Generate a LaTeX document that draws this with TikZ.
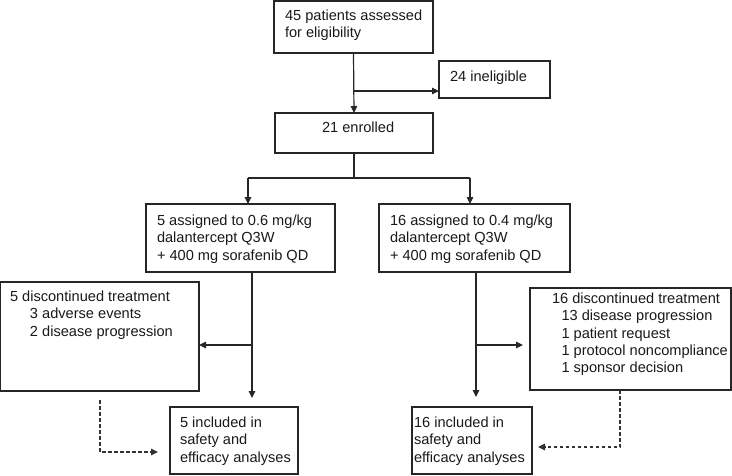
\documentclass[tikz,border=0pt]{standalone}
\usepackage{fontspec}
\setmainfont{Liberation Sans}
\usetikzlibrary{arrows.meta,calc}
\newcommand\lines[1]{\begin{tabular}[t]{@{}l@{}}#1\end{tabular}}
\begin{document}
\begin{tikzpicture}[x=1pt,y=-1pt,
  box/.style={draw=black!85, line width=1.1pt, inner sep=0pt, outer sep=0pt, anchor=north west},
  txt/.style={anchor=base west, inner sep=0pt, outer sep=0pt, text=black!90,
    font=\fontsize{14.6}{17.3}\selectfont},
  ln/.style={draw=black!85, line width=1.2pt},
  arr/.style={ln, -{Triangle[length=7pt,width=6.5pt]}},
  dsh/.style={draw=black!80, line width=1.2pt, -{Triangle[length=7pt,width=6.5pt]}, dash pattern=on 3.5pt off 2.5pt}]
\useasboundingbox (0,0) rectangle (732,475);
% boxes
\node[box, minimum width=159pt, minimum height=52pt] (b1) at (274,1) {};
\node[box, minimum width=111pt, minimum height=37pt] (inel) at (439,61) {};
\node[box, minimum width=158pt, minimum height=40pt] (enr) at (275,113) {};
\node[box, minimum width=189pt, minimum height=68pt] (b06) at (146,204) {};
\node[box, minimum width=191pt, minimum height=68pt] (b04) at (379,204) {};
\node[box, minimum width=198.4pt, minimum height=109pt] (disL) at (0.6,282) {};
\node[box, minimum width=201pt, minimum height=102pt] (disR) at (530,288) {};
\node[box, minimum width=128pt, minimum height=67pt] (inc5) at (170,407) {};
\node[box, minimum width=120pt, minimum height=67pt] (inc16) at (412,407) {};
% texts
\node[txt] (t1) at (285,20.5) {\lines{45 patients assessed\\for eligibility}};
\node[txt] (tin) at (450,81.5) {24 ineligible};
\node[txt] (ten) at (322,132.5) {21 enrolled};
\node[txt] (t06) at (157,225.5) {\lines{5 assigned to 0.6 mg/kg\\dalantercept Q3W\\+ 400 mg sorafenib QD}};
\node[txt] (t04) at (390,225.5) {\lines{16 assigned to 0.4 mg/kg\\dalantercept Q3W\\+ 400 mg sorafenib QD}};
\node[txt] (tdL) at (10,301.5) {\lines{5 discontinued treatment\\\hspace*{20pt}3 adverse events\\\hspace*{20pt}2 disease progression}};
\node[txt] (tdR) at (552,303.5) {\lines{16 discontinued treatment\\\hspace*{9.5pt}13 disease progression\\\hspace*{9.5pt}1 patient request\\\hspace*{9.5pt}1 protocol noncompliance\\\hspace*{9.5pt}1 sponsor decision}};
\node[txt] (ti5) at (180,427.5) {\lines{5 included in\\safety and\\efficacy analyses}};
\node[txt] (ti16) at (414,427.5) {\lines{16 included in\\safety and\\efficacy analyses}};
% coordinates
\coordinate (c1) at (353.5,91);
\coordinate (spL) at (248,178);
\coordinate (spR) at (470,178);
\coordinate (spM) at (354,178);
\coordinate (vL) at (252,0);
\coordinate (vR) at (476,0);
\coordinate (brL) at (252,345);
\coordinate (brR) at (476,345);
\coordinate (dL) at (100,400);
\coordinate (dLe) at (158,452);
\coordinate (dR) at (620,0);
\coordinate (dRe) at (538,447);
% connectors
\draw[arr] (b1.south) -- (enr.north);
\draw[arr] (c1) -- (c1 -| inel.west);
\draw[ln] (enr.south) -- (spM);
\draw[ln] (spL) -- (spR);
\draw[arr] (spL) -- (spL |- b06.north);
\draw[arr] (spR) -- (spR |- b04.north);
\draw[arr, shorten >=9pt] (b06.south -| vL) -- (inc5.north -| vL);
\draw[arr] (brL) -- (brL -| disL.east);
\draw[arr, shorten >=10pt] (b04.south -| vR) -- (inc16.north -| vR);
\draw[arr, shorten >=7pt] (brR) -- (brR -| disR.west);
\draw[dsh] (dL) |- (dLe);
\draw[dsh] (disR.south -| dR) |- (dRe);
\end{tikzpicture}
\end{document}
